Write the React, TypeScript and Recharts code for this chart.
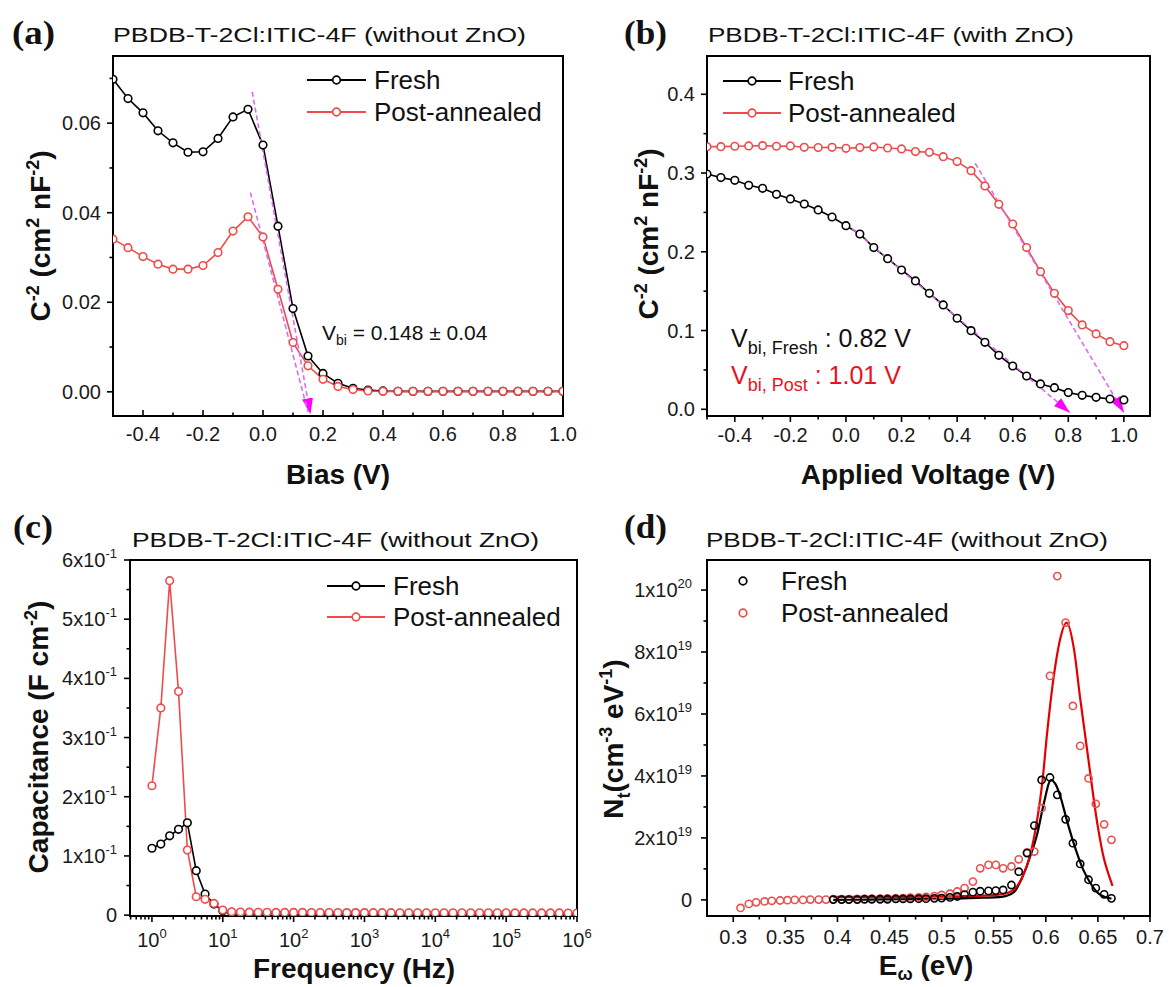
import React from "react";
import { ComposedChart, Line, XAxis, YAxis, ReferenceArea } from "recharts";

const SANS = '"Liberation Sans", Arial, sans-serif';
const SERIF = '"Liberation Serif", "Times New Roman", serif';
const RED = "#ee4c4c";
const FIT_RED = "#e50000";
const DASH = "#dc6cf0";
const ARROW = "#ff00ff";
const TEXT_RED = "#e8141c";

// (a) C^-2 vs bias, without ZnO
const biasA = [-0.5, -0.45, -0.4, -0.35, -0.3, -0.25, -0.2, -0.15, -0.1, -0.05, 0, 0.05, 0.1, 0.15, 0.2, 0.25, 0.3, 0.35, 0.4, 0.45, 0.5, 0.55, 0.6, 0.65, 0.7, 0.75, 0.8, 0.85, 0.9, 0.95, 1.0];
const freshA = [0.0698, 0.0655, 0.0623, 0.0583, 0.0556, 0.0535, 0.0536, 0.0566, 0.0614, 0.0631, 0.0551, 0.037, 0.0186, 0.008, 0.0041, 0.0019, 0.0008, 0.0004, 0.0002, 0.0001, 0.0001, 0.0001, 0.0001, 0.0001, 0.0001, 0.0001, 0.0001, 0.0001, 0.0001, 0.0001, 0.0001];
const postA = [0.0341, 0.0322, 0.0302, 0.0285, 0.0274, 0.0274, 0.0282, 0.0311, 0.0359, 0.0391, 0.0346, 0.0229, 0.011, 0.0058, 0.0028, 0.0012, 0.0005, 0.0002, 0.0001, 0.0001, 0.0001, 0.0001, 0.0001, 0.0001, 0.0001, 0.0001, 0.0001, 0.0001, 0.0001, 0.0001, 0.0001];
const fitFreshAX = [-0.036, 0.158];
const fitFreshAY = [0.067, -0.005];
const fitPostAX = [-0.042, 0.15];
const fitPostAY = [0.0445, -0.0045];

// (b) C^-2 vs applied voltage, with ZnO
const biasB = [-0.5, -0.45, -0.4, -0.35, -0.3, -0.25, -0.2, -0.15, -0.1, -0.05, 0, 0.05, 0.1, 0.15, 0.2, 0.25, 0.3, 0.35, 0.4, 0.45, 0.5, 0.55, 0.6, 0.65, 0.7, 0.75, 0.8, 0.85, 0.9, 0.95, 1.0];
const freshB = [0.2988, 0.2942, 0.2908, 0.2844, 0.2806, 0.273, 0.2671, 0.2607, 0.2531, 0.2442, 0.2332, 0.2226, 0.2053, 0.1913, 0.1769, 0.163, 0.1473, 0.1325, 0.1156, 0.0999, 0.0851, 0.0686, 0.055, 0.0423, 0.0322, 0.0275, 0.0212, 0.0178, 0.0152, 0.0131, 0.0119];
const postB = [0.3335, 0.3335, 0.334, 0.3344, 0.3348, 0.334, 0.3344, 0.3327, 0.3323, 0.3327, 0.3314, 0.3323, 0.3331, 0.3318, 0.3306, 0.3272, 0.3263, 0.3208, 0.3145, 0.303, 0.2836, 0.2603, 0.2353, 0.2053, 0.1748, 0.1473, 0.1253, 0.1071, 0.0957, 0.0859, 0.0808];
const fitFreshBX = [0.0, 0.805];
const fitFreshBY = [0.236, -0.004];
const fitPostBX = [0.465, 1.0];
const fitPostBY = [0.3124, -0.004];

// (c) capacitance vs frequency
const freqC = [1, 1.334, 1.778, 2.371, 3.162, 4.217, 5.623, 7.499, 10, 13.34, 17.78, 23.71, 31.62, 42.17, 56.23, 74.99, 100, 133.4, 177.8, 237.1, 316.2, 421.7, 562.3, 749.9, 1000, 1334, 1778, 2371, 3162, 4217, 5623, 7499, 10000, 13340, 17780, 23710, 31620, 42170, 56230, 74990, 100000, 133400, 177800, 237100, 316200, 421700, 562300, 749900, 1000000];
const freshC = [0.113, 0.12, 0.134, 0.145, 0.156, 0.075, 0.0356, 0.0186, 0.0073, 0.0045, 0.004, 0.0038, 0.0036, 0.0035, 0.0034, 0.0034, 0.0033, 0.0033, 0.0032, 0.0032, 0.0031, 0.0031, 0.003, 0.003, 0.003, 0.0029, 0.0029, 0.0029, 0.0028, 0.0028, 0.0028, 0.0028, 0.0027, 0.0027, 0.0027, 0.0027, 0.0026, 0.0026, 0.0026, 0.0026, 0.0026, 0.0025, 0.0025, 0.0025, 0.0025, 0.0025, 0.0025, 0.0024, 0.0024];
const postC = [0.2186, 0.35, 0.565, 0.378, 0.11, 0.031, 0.0266, 0.0198, 0.0085, 0.0056, 0.0052, 0.005, 0.0048, 0.0047, 0.0046, 0.0046, 0.0045, 0.0045, 0.0044, 0.0044, 0.0043, 0.0043, 0.0042, 0.0042, 0.0042, 0.0041, 0.0041, 0.0041, 0.004, 0.004, 0.004, 0.004, 0.0039, 0.0039, 0.0039, 0.0039, 0.0038, 0.0038, 0.0038, 0.0038, 0.0038, 0.0037, 0.0037, 0.0037, 0.0037, 0.0037, 0.0037, 0.0036, 0.0036];

// (d) trap density of states
const energyD = [0.663, 0.656, 0.648, 0.641, 0.633, 0.626, 0.619, 0.611, 0.604, 0.596, 0.589, 0.582, 0.574, 0.567, 0.559, 0.552, 0.545, 0.537, 0.53, 0.522, 0.515, 0.508, 0.5, 0.493, 0.485, 0.478, 0.47, 0.463, 0.456, 0.448, 0.441, 0.433, 0.426, 0.419, 0.411, 0.404, 0.396, 0.389, 0.382, 0.374, 0.367, 0.359, 0.352, 0.345, 0.337, 0.33, 0.322, 0.315, 0.307];
const postD = [1.94e19, 2.44e19, 3.1e19, 3.92e19, 4.97e19, 6.26e19, 8.95e19, 10.45e19, 7.23e19, 2.96e19, 1.56e19, 1.53e19, 1.31e19, 1.08e19, 1.02e19, 1.13e19, 1.13e19, 1.02e19, 0.59e19, 0.38e19, 0.27e19, 0.2e19, 0.16e19, 0.12e19, 0.1e19, 0.08e19, 0.07e19, 0.06e19, 0.05e19, 0.05e19, 0.04e19, 0.04e19, 0.03e19, 0.03e19, 0.02e19, 0.02e19, 0.02e19, 0.01e19, 0.01e19, 0.01e19, 0, 0, -0.01e19, -0.02e19, -0.03e19, -0.05e19, -0.08e19, -0.13e19, -0.26e19];
const freshD = [0.05e19, 0.18e19, 0.38e19, 0.65e19, 1.16e19, 1.83e19, 2.6e19, 3.39e19, 3.95e19, 3.87e19, 2.4e19, 1.51e19, 0.91e19, 0.48e19, 0.32e19, 0.3e19, 0.29e19, 0.28e19, 0.25e19, 0.17e19, 0.11e19, 0.08e19, 0.06e19, 0.05e19, 0.04e19, 0.04e19, 0.03e19, 0.03e19, 0.03e19, 0.02e19, 0.02e19, 0.02e19, 0.02e19, 0.01e19, 0.01e19, 0.01e19, 0.01e19];
const fitPostDE = [0.396, 0.43, 0.46, 0.49, 0.52, 0.54, 0.555, 0.563, 0.57, 0.577, 0.585, 0.592, 0.597, 0.601, 0.608, 0.613, 0.62, 0.627, 0.633, 0.641, 0.65, 0.656, 0.661, 0.664];
const fitPostDN = [0.1e19, 0.1e19, 0.1e19, 0.11e19, 0.12e19, 0.14e19, 0.17e19, 0.22e19, 0.35e19, 0.7e19, 1.45e19, 2.65e19, 3.9e19, 5.3e19, 7.3e19, 8.3e19, 8.95e19, 8.1e19, 6.5e19, 4.5e19, 2.35e19, 1.3e19, 0.75e19, 0.45e19];
const fitFreshDE = [0.396, 0.43, 0.46, 0.49, 0.52, 0.54, 0.555, 0.562, 0.57, 0.577, 0.585, 0.592, 0.598, 0.605, 0.609, 0.613, 0.621, 0.629, 0.636, 0.644, 0.65, 0.656, 0.663];
const fitFreshDN = [0, 0.01e19, 0.02e19, 0.03e19, 0.05e19, 0.07e19, 0.09e19, 0.13e19, 0.27e19, 0.7e19, 1.4e19, 2.16e19, 3.1e19, 3.87e19, 3.75e19, 3.44e19, 2.47e19, 1.6e19, 0.97e19, 0.48e19, 0.22e19, 0.1e19, 0.04e19];

// ticks
const biasMajors = [-0.4, -0.2, 0, 0.2, 0.4, 0.6, 0.8, 1.0];
const biasMinors = [-0.5, -0.3, -0.1, 0.1, 0.3, 0.5, 0.7, 0.9];
const yMajorsA = [0, 0.02, 0.04, 0.06];
const yMinorsA = [0.01, 0.03, 0.05, 0.07];
const yMajorsB = [0, 0.1, 0.2, 0.3, 0.4];
const yMinorsB = [0.05, 0.15, 0.25, 0.35];
const freqMajors = [1, 10, 100, 1000, 10000, 100000, 1000000];
const freqMinors = [0.5, 0.6, 0.7, 0.8, 0.9].concat(
  [1, 10, 100, 1000, 10000, 100000].flatMap((d) => [2, 3, 4, 5, 6, 7, 8, 9].map((m) => m * d))
);
const yMajorsC = [0, 0.1, 0.2, 0.3, 0.4, 0.5, 0.6];
const yMinorsC = [0.05, 0.15, 0.25, 0.35, 0.45, 0.55];
const eMajors = [0.3, 0.35, 0.4, 0.45, 0.5, 0.55, 0.6, 0.65, 0.7];
const eMinors = [0.325, 0.375, 0.425, 0.475, 0.525, 0.575, 0.625, 0.675];
const yMajorsD = [0, 2e19, 4e19, 6e19, 8e19, 1e20];
const yMinorsD = [1e19, 3e19, 5e19, 7e19, 9e19];

const xy = (xs: number[], ys: number[]) => xs.map((x, i) => ({ x, y: ys[i] }));

type TickCfg = {
  side: "bottom" | "left";
  majors: number[];
  fmt: (v: number) => React.ReactNode;
  inward?: boolean;
  gap: number;
};

const isMajor = (list: number[], v: number) =>
  list.some((m) => Math.abs(m - v) <= 1e-9 * Math.max(1, Math.abs(m)));

function makeTick(cfg: TickCfg) {
  return (props: any) => {
    const { x, y, payload } = props;
    const v = payload.value as number;
    const major = isMajor(cfg.majors, v);
    const len = major ? 6 : 3.5;
    if (cfg.side === "bottom") {
      const d = cfg.inward ? -len : len;
      return (
        <g>
          <line x1={x} x2={x} y1={y} y2={y + d} stroke="#000" strokeWidth={1.6} />
          {major ? (
            <text x={x} y={y + cfg.gap} textAnchor="middle" fontFamily={SANS} fontSize={20} fill="#1a1a1a">
              {cfg.fmt(v)}
            </text>
          ) : null}
        </g>
      );
    }
    return (
      <g>
        <line x1={x} x2={x - len} y1={y} y2={y} stroke="#000" strokeWidth={1.6} />
        {major ? (
          <text x={x - cfg.gap} y={y + 7} textAnchor="end" fontFamily={SANS} fontSize={20} fill="#1a1a1a">
            {cfg.fmt(v)}
          </text>
        ) : null}
      </g>
    );
  };
}

const sci = (base: string, exp: string) => [
  <tspan key="b">{base}</tspan>,
  <tspan key="e" dy={-9} fontSize={13}>
    {exp}
  </tspan>,
];

const fmt1 = (v: number) => v.toFixed(1);
const fmt2 = (v: number) => v.toFixed(2);
const fmtCy = (v: number) => (v === 0 ? "0" : sci(`${Math.round(v * 10)}x10`, "-1"));
const fmtCx = (v: number) => sci("10", String(Math.round(Math.log10(v))));
const fmtDy = (v: number) =>
  v === 0 ? "0" : v > 9.9e19 ? sci("1x10", "20") : sci(`${Math.round(v / 1e19)}x10`, "19");
const fmtDx = (v: number) => String(Number(v.toFixed(2)));

const openDot = (color: string, fill = "#fff", r = 3.8) => ({ r, stroke: color, strokeWidth: 1.6, fill });

function Arrow({ id }: { id: string }) {
  return (
    <defs>
      <marker id={id} viewBox="0 0 16 11" markerWidth={16} markerHeight={11} refX={16} refY={5.5} orient="auto" markerUnits="userSpaceOnUse">
        <path d="M0,0 L16,5.5 L0,11 Z" fill={ARROW} />
      </marker>
    </defs>
  );
}

function PanelA() {
  const dx: [number, number] = [-0.5, 1.0];
  const dy: [number, number] = [-0.0054, 0.075];
  return (
    <ComposedChart width={584} height={493} margin={{ top: 56, right: 21, bottom: 47, left: 63 }}>
      <Arrow id="arrowA" />
      <XAxis type="number" dataKey="x" domain={dx} allowDataOverflow ticks={[...biasMajors, ...biasMinors]} interval={0}
        height={30} tickSize={0} tickMargin={0} tickLine={false} axisLine={false}
        tick={makeTick({ side: "bottom", majors: biasMajors, fmt: fmt1, gap: 25, inward: true })} />
      <YAxis type="number" domain={dy} allowDataOverflow ticks={[...yMajorsA, ...yMinorsA]} interval={0}
        width={50} tickSize={0} tickMargin={0} tickLine={false} axisLine={false}
        tick={makeTick({ side: "left", majors: yMajorsA, fmt: fmt2, gap: 12 })} />
      <Line data={xy(biasA, freshA)} dataKey="y" stroke="#000" strokeWidth={1.6} dot={openDot("#000")} activeDot={false} isAnimationActive={false} />
      <Line data={xy(biasA, postA)} dataKey="y" stroke={RED} strokeWidth={1.6} dot={openDot(RED)} activeDot={false} isAnimationActive={false} />
      <Line data={xy(fitFreshAX, fitFreshAY)} dataKey="y" stroke={DASH} strokeWidth={1.6} strokeDasharray="5 3" dot={false} activeDot={false} markerEnd="url(#arrowA)" isAnimationActive={false} />
      <Line data={xy(fitPostAX, fitPostAY)} dataKey="y" stroke={DASH} strokeWidth={1.6} strokeDasharray="5 3" dot={false} activeDot={false} isAnimationActive={false} />
      <ReferenceArea x1={dx[0]} x2={dx[1]} y1={dy[0]} y2={dy[1]} fill="none" fillOpacity={0} stroke="#000" strokeWidth={2} />
    </ComposedChart>
  );
}

function PanelB() {
  const dx: [number, number] = [-0.5, 1.094];
  const dy: [number, number] = [-0.0085, 0.4486];
  return (
    <ComposedChart width={585} height={493} margin={{ top: 56, right: 19, bottom: 47, left: 73 }}>
      <Arrow id="arrowB" />
      <XAxis type="number" dataKey="x" domain={dx} allowDataOverflow ticks={[...biasMajors, ...biasMinors]} interval={0}
        height={30} tickSize={0} tickMargin={0} tickLine={false} axisLine={false}
        tick={makeTick({ side: "bottom", majors: biasMajors, fmt: fmt1, gap: 26 })} />
      <YAxis type="number" domain={dy} allowDataOverflow ticks={[...yMajorsB, ...yMinorsB]} interval={0}
        width={50} tickSize={0} tickMargin={0} tickLine={false} axisLine={false}
        tick={makeTick({ side: "left", majors: yMajorsB, fmt: fmt1, gap: 12 })} />
      <Line data={xy(biasB, freshB)} dataKey="y" stroke="#000" strokeWidth={1.6} dot={openDot("#000")} activeDot={false} isAnimationActive={false} />
      <Line data={xy(biasB, postB)} dataKey="y" stroke={RED} strokeWidth={1.6} dot={openDot(RED)} activeDot={false} isAnimationActive={false} />
      <Line data={xy(fitFreshBX, fitFreshBY)} dataKey="y" stroke={DASH} strokeWidth={1.6} strokeDasharray="5 3" dot={false} activeDot={false} markerEnd="url(#arrowB)" isAnimationActive={false} />
      <Line data={xy(fitPostBX, fitPostBY)} dataKey="y" stroke={DASH} strokeWidth={1.6} strokeDasharray="5 3" dot={false} activeDot={false} markerEnd="url(#arrowB)" isAnimationActive={false} />
      <ReferenceArea x1={dx[0]} x2={dx[1]} y1={dy[0]} y2={dy[1]} fill="none" fillOpacity={0} stroke="#000" strokeWidth={2} />
    </ComposedChart>
  );
}

function PanelC() {
  const dx: [number, number] = [0.49, 1000000];
  const dy: [number, number] = [-0.0015, 0.6];
  return (
    <ComposedChart width={604} height={494} margin={{ top: 67, right: 27, bottom: 41, left: 80 }}>
      <XAxis type="number" scale="log" dataKey="x" domain={dx} allowDataOverflow ticks={[...freqMajors, ...freqMinors]} interval={0}
        height={30} tickSize={0} tickMargin={0} tickLine={false} axisLine={false}
        tick={makeTick({ side: "bottom", majors: freqMajors, fmt: fmtCx, gap: 31 })} />
      <YAxis type="number" domain={dy} allowDataOverflow ticks={[...yMajorsC, ...yMinorsC]} interval={0}
        width={50} tickSize={0} tickMargin={0} tickLine={false} axisLine={false}
        tick={makeTick({ side: "left", majors: yMajorsC, fmt: fmtCy, gap: 13 })} />
      <Line data={xy(freqC, freshC)} dataKey="y" stroke="#000" strokeWidth={1.6} dot={openDot("#000")} activeDot={false} isAnimationActive={false} />
      <Line data={xy(freqC, postC)} dataKey="y" stroke={RED} strokeWidth={1.6} dot={openDot(RED)} activeDot={false} isAnimationActive={false} />
      <ReferenceArea x1={dx[0]} x2={dx[1]} y1={dy[0]} y2={dy[1]} fill="none" fillOpacity={0} stroke="#000" strokeWidth={2} />
    </ComposedChart>
  );
}

function PanelD() {
  const dx: [number, number] = [0.2748, 0.7];
  const dy: [number, number] = [-0.52e19, 10.97e19];
  return (
    <ComposedChart width={585} height={494} margin={{ top: 67, right: 19, bottom: 41, left: 73 }}>
      <XAxis type="number" dataKey="x" domain={dx} allowDataOverflow ticks={[...eMajors, ...eMinors]} interval={0}
        height={30} tickSize={0} tickMargin={0} tickLine={false} axisLine={false}
        tick={makeTick({ side: "bottom", majors: eMajors, fmt: fmtDx, gap: 28 })} />
      <YAxis type="number" domain={dy} allowDataOverflow ticks={[...yMajorsD, ...yMinorsD]} interval={0}
        width={50} tickSize={0} tickMargin={0} tickLine={false} axisLine={false}
        tick={makeTick({ side: "left", majors: yMajorsD, fmt: fmtDy, gap: 15 })} />
      <Line data={xy(energyD, postD)} dataKey="y" stroke="none" dot={openDot("#e85050", "none", 3.6)} activeDot={false} isAnimationActive={false} />
      <Line data={xy(energyD.slice(0, freshD.length), freshD)} dataKey="y" stroke="none" dot={openDot("#000", "none", 3.6)} activeDot={false} isAnimationActive={false} />
      <Line data={xy(fitFreshDE, fitFreshDN)} type="monotone" dataKey="y" stroke="#000" strokeWidth={2.2} dot={false} activeDot={false} isAnimationActive={false} />
      <Line data={xy(fitPostDE, fitPostDN)} type="monotone" dataKey="y" stroke={FIT_RED} strokeWidth={2.2} dot={false} activeDot={false} isAnimationActive={false} />
      <ReferenceArea x1={dx[0]} x2={dx[1]} y1={dy[0]} y2={dy[1]} fill="none" fillOpacity={0} stroke="#000" strokeWidth={2} />
    </ComposedChart>
  );
}

function LegendRow({ x1, x2, y, tx, ty, color, label, line = true }: any) {
  const cx = (x1 + x2) / 2;
  return (
    <g>
      {line ? <line x1={x1} x2={x2} y1={y} y2={y} stroke={color} strokeWidth={1.8} /> : null}
      <circle cx={cx} cy={y} r={3.8} stroke={color} strokeWidth={1.7} fill={line ? "#fff" : "none"} />
      <text x={tx} y={ty} fontFamily={SANS} fontSize={26} fill="#111">
        {label}
      </text>
    </g>
  );
}

function Overlay() {
  const letter = { fontFamily: SERIF, fontWeight: 700, fontSize: 34, fill: "#111" } as const;
  const title = { fontFamily: SANS, fontSize: 21, fill: "#111" } as const;
  const axisT = { fontFamily: SANS, fontWeight: 700, fontSize: 28, fill: "#111" } as const;
  return (
    <svg width={1169} height={987} style={{ position: "absolute", left: 0, top: 0, pointerEvents: "none" }}>
      {/* panel letters */}
      <text x={12} y={44} textLength={43} lengthAdjust="spacingAndGlyphs" {...letter}>(a)</text>
      <text x={624} y={44} textLength={43} lengthAdjust="spacingAndGlyphs" {...letter}>(b)</text>
      <text x={13} y={538} textLength={40} lengthAdjust="spacingAndGlyphs" {...letter}>(c)</text>
      <text x={624} y={538} textLength={43} lengthAdjust="spacingAndGlyphs" {...letter}>(d)</text>

      {/* titles */}
      <text x={113} y={42} textLength={413} lengthAdjust="spacingAndGlyphs" {...title}>PBDB-T-2Cl:ITIC-4F (without ZnO)</text>
      <text x={708} y={42} textLength={366} lengthAdjust="spacingAndGlyphs" {...title}>PBDB-T-2Cl:ITIC-4F (with ZnO)</text>
      <text x={132} y={547} textLength={407} lengthAdjust="spacingAndGlyphs" {...title}>PBDB-T-2Cl:ITIC-4F (without ZnO)</text>
      <text x={706} y={547} textLength={402} lengthAdjust="spacingAndGlyphs" {...title}>PBDB-T-2Cl:ITIC-4F (without ZnO)</text>

      {/* legends */}
      <LegendRow x1={307} x2={366} y={80} tx={374} ty={89} color="#000" label="Fresh" />
      <LegendRow x1={307} x2={366} y={112} tx={374} ty={121} color={RED} label="Post-annealed" />
      <LegendRow x1={723} x2={781} y={81} tx={788} ty={90} color="#000" label="Fresh" />
      <LegendRow x1={723} x2={781} y={113} tx={788} ty={122} color={RED} label="Post-annealed" />
      <LegendRow x1={327} x2={385} y={586} tx={393} ty={595} color="#000" label="Fresh" />
      <LegendRow x1={327} x2={385} y={617} tx={393} ty={626} color={RED} label="Post-annealed" />
      <LegendRow x1={743} x2={743} y={581} tx={781} ty={590} color="#000" label="Fresh" line={false} />
      <LegendRow x1={743} x2={743} y={613} tx={781} ty={622} color="#e85050" label="Post-annealed" line={false} />

      {/* annotations */}
      <text x={322} y={340} fontFamily={SANS} fontSize={21} fill="#111">
        V<tspan dy={5} fontSize={14}>bi</tspan>
        <tspan dy={-5}> = 0.148 ± 0.04</tspan>
      </text>
      <text x={731} y={347} fontFamily={SANS} fontSize={25} fill="#111">
        V<tspan dy={7} fontSize={18}>bi, Fresh</tspan>
        <tspan dy={-7}> : 0.82 V</tspan>
      </text>
      <text x={731} y={384} fontFamily={SANS} fontSize={25} fill={TEXT_RED}>
        V<tspan dy={7} fontSize={18}>bi, Post</tspan>
        <tspan dy={-7}> : 1.01 V</tspan>
      </text>

      {/* axis titles */}
      <text x={338} y={484} textAnchor="middle" {...axisT}>Bias (V)</text>
      <text x={928} y={484} textAnchor="middle" {...axisT}>Applied Voltage (V)</text>
      <text x={354} y={978} textAnchor="middle" {...axisT}>Frequency (Hz)</text>
      <text x={926} y={975} textAnchor="middle" {...axisT}>
        E<tspan dy={5} fontSize={18}>ω</tspan>
        <tspan dy={-5}> (eV)</tspan>
      </text>
      <text transform="translate(50,236) rotate(-90)" textAnchor="middle" {...axisT}>
        C<tspan dy={-11} fontSize={18}>-2</tspan>
        <tspan dy={11}> (cm</tspan>
        <tspan dy={-11} fontSize={18}>2</tspan>
        <tspan dy={11}> nF</tspan>
        <tspan dy={-11} fontSize={18}>-2</tspan>
        <tspan dy={11}>)</tspan>
      </text>
      <text transform="translate(658,234) rotate(-90)" textAnchor="middle" {...axisT}>
        C<tspan dy={-11} fontSize={18}>-2</tspan>
        <tspan dy={11}> (cm</tspan>
        <tspan dy={-11} fontSize={18}>2</tspan>
        <tspan dy={11}> nF</tspan>
        <tspan dy={-11} fontSize={18}>-2</tspan>
        <tspan dy={11}>)</tspan>
      </text>
      <text transform="translate(48,737) rotate(-90)" textAnchor="middle" {...axisT}>
        Capacitance (F cm<tspan dy={-11} fontSize={18}>-2</tspan>
        <tspan dy={11}>)</tspan>
      </text>
      <text transform="translate(623,739) rotate(-90)" textAnchor="middle" {...axisT}>
        N<tspan dy={7} fontSize={18}>t</tspan>
        <tspan dy={-7}>(cm</tspan>
        <tspan dy={-11} fontSize={18}>-3</tspan>
        <tspan dy={11}> eV</tspan>
        <tspan dy={-11} fontSize={18}>-1</tspan>
        <tspan dy={11}>)</tspan>
      </text>
    </svg>
  );
}

export default function App() {
  return (
    <div style={{ position: "absolute", left: 0, top: 0, width: 1169, height: 987, background: "#fff", overflow: "hidden" }}>
      <div style={{ position: "absolute", left: 0, top: 0 }}>
        <PanelA />
      </div>
      <div style={{ position: "absolute", left: 584, top: 0 }}>
        <PanelB />
      </div>
      <div style={{ position: "absolute", left: 0, top: 493 }}>
        <PanelC />
      </div>
      <div style={{ position: "absolute", left: 584, top: 493 }}>
        <PanelD />
      </div>
      <Overlay />
    </div>
  );
}
